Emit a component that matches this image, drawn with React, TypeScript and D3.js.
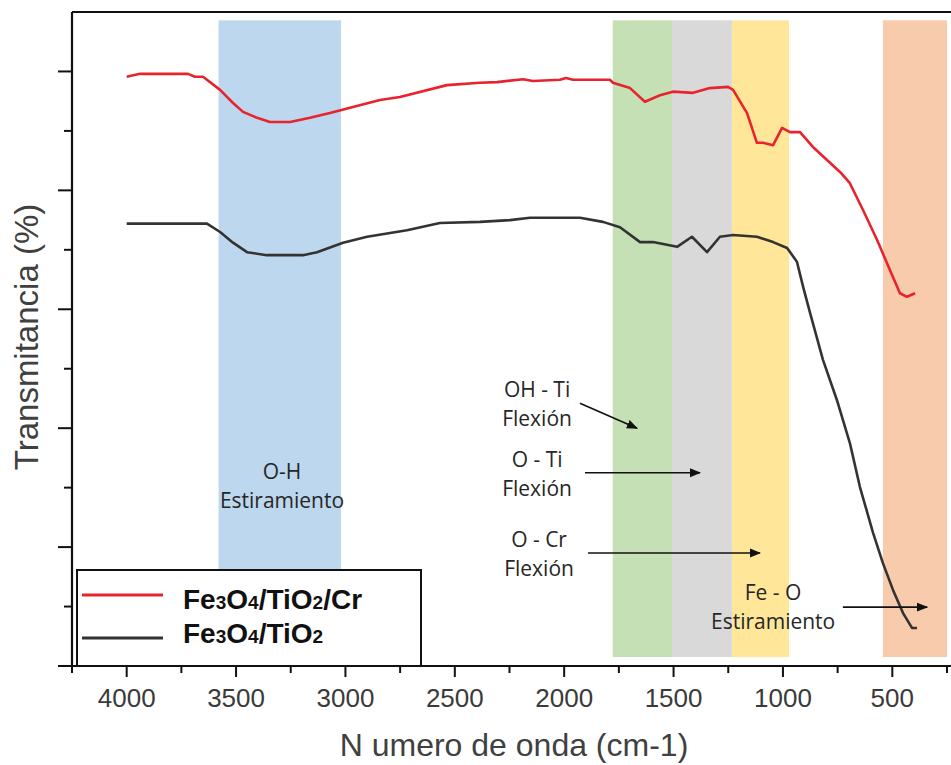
import React from 'react';
import * as d3 from 'd3';

// ---- data ----
const crWave = [4000, 3939, 3720, 3688, 3651, 3573, 3514, 3468, 3404, 3345, 3253, 3162, 3071, 2979, 2842, 2751, 2536, 2385, 2307, 2188, 2143, 2019, 1992, 1960, 1791, 1777, 1699, 1631, 1562, 1503, 1411, 1334, 1251, 1228, 1164, 1119, 1091, 1045, 1004, 968, 922, 863, 739, 694, 634, 570, 511, 465, 433, 396];
const crTrans = [99.1, 99.6, 99.6, 99.1, 99.1, 96.9, 94.7, 93.2, 92.2, 91.5, 91.5, 92.2, 93.0, 93.9, 95.2, 95.7, 97.7, 98.1, 98.2, 98.7, 98.4, 98.6, 98.9, 98.6, 98.6, 98.1, 97.2, 94.9, 96.0, 96.6, 96.4, 97.2, 97.4, 96.9, 93.0, 88.0, 88.0, 87.6, 90.5, 89.8, 89.8, 87.3, 83.1, 81.2, 76.7, 71.7, 66.6, 62.7, 62.1, 62.7];

const baseWave = [4000, 3633, 3573, 3514, 3450, 3359, 3194, 3130, 3011, 2901, 2719, 2568, 2385, 2248, 2156, 1928, 1823, 1745, 1653, 1594, 1484, 1416, 1347, 1288, 1228, 1119, 1045, 981, 936, 908, 876, 817, 753, 694, 648, 588, 543, 497, 451, 410, 387];
const baseTrans = [74.4, 74.4, 73.0, 71.2, 69.6, 69.1, 69.1, 69.6, 71.2, 72.2, 73.3, 74.5, 74.7, 75.0, 75.4, 75.4, 74.7, 73.8, 71.3, 71.3, 70.5, 72.2, 69.6, 72.2, 72.5, 72.2, 71.3, 70.3, 68.0, 63.8, 59.4, 51.5, 44.7, 37.5, 30.1, 22.4, 17.3, 12.8, 8.9, 6.4, 6.4];

const seriesNames = ['Fe3O4/TiO2/Cr', 'Fe3O4/TiO2'];
const seriesColors = ['#e8232d', '#333333'];

const bandFrom = [3580, 1778, 1507, 1233, 543];
const bandTo = [3020, 1507, 1233, 972, 250];
const bandColors = ['#bdd7ee', '#c5e0b4', '#d9d9d9', '#ffe699', '#f8cbad'];

const noteLines = [['O-H', 'Estiramiento'], ['OH - Ti', 'Flexión'], ['O - Ti', 'Flexión'], ['O - Cr', 'Flexión'], ['Fe - O', 'Estiramiento']];
const noteWave = [3290, 2124, 2124, 2115, 1045];
const noteTrans = [31.45, 45.2, 33.5, 20.0, 11.1];

const arrowFromWave = [1928, 1905, 1891, 726];
const arrowFromTrans = [44.2, 32.5, 19.0, 9.9];
const arrowToWave = [1667, 1379, 1105, 341];
const arrowToTrans = [40.0, 32.5, 19.0, 9.9];

const xMajorTicks = [4000, 3500, 3000, 2500, 2000, 1500, 1000, 500];
const xMinorTicks = [4250, 3750, 3250, 2750, 2250, 1750, 1250, 750, 250];
const yMajorTicks = [0, 20, 40, 60, 80, 100];
const yMinorTicks = [10, 30, 50, 70, 90];

const xTitle = 'N umero de onda (cm-1)';
const yTitle = 'Transmitancia (%)';

function chem(label: string, big: number, small: number) {
  const parts = label.split(/(\d)/).filter((s) => s.length > 0);
  return parts.map((p, i) =>
    /\d/.test(p) ? (
      <tspan key={i} fontSize={small}>{p}</tspan>
    ) : (
      <tspan key={i} fontSize={big}>{p}</tspan>
    )
  );
}

export default function App() {
  const W = 951;
  const H = 765;
  const x = d3.scaleLinear().domain([4250, 250]).range([72, 947]);
  const y = d3.scaleLinear().domain([0, 110]).range([666, 12]);

  const crData = crWave.map((w, i) => [w, crTrans[i]] as [number, number]);
  const baseData = baseWave.map((w, i) => [w, baseTrans[i]] as [number, number]);
  const line = d3
    .line<[number, number]>()
    .x((d) => x(d[0]))
    .y((d) => y(d[1]));

  const bandTop = y(108.6);
  const bandBottom = y(1.5);

  const annFont = "'Open Sans', 'Noto Sans', sans-serif";
  const axFont = "'Liberation Sans', Arial, sans-serif";

  return (
    <svg
      width={W}
      height={H}
      style={{ position: 'absolute', left: 0, top: 0, background: '#fff' }}
      xmlns="http://www.w3.org/2000/svg"
    >
      <defs>
        <marker id="ah" viewBox="0 0 10 10" refX="9" refY="5" markerWidth="7" markerHeight="7" orient="auto">
          <path d="M0,1 L10,5 L0,9 z" fill="#111" />
        </marker>
      </defs>
      <rect x={0} y={0} width={W} height={H} fill="#fff" />

      {/* bands */}
      {bandFrom.map((b, i) => (
        <rect
          key={i}
          x={x(b)}
          y={bandTop}
          width={x(bandTo[i]) - x(b)}
          height={bandBottom - bandTop}
          fill={bandColors[i]}
        />
      ))}

      {/* series */}
      <path d={line(crData) || ''} fill="none" stroke={seriesColors[0]} strokeWidth={2.6} strokeLinejoin="round" />
      <path d={line(baseData) || ''} fill="none" stroke={seriesColors[1]} strokeWidth={2.6} strokeLinejoin="round" />

      {/* annotations */}
      {noteLines.map((ls, i) => (
        <text
          key={i}
          x={x(noteWave[i])}
          y={y(noteTrans[i])}
          textAnchor="middle"
          fontFamily={annFont}
          fontSize={21}
          fill="#262626"
        >
          {ls.map((l, j) => (
            <tspan key={j} x={x(noteWave[i])} dy={j === 0 ? 0 : 29}>
              {l}
            </tspan>
          ))}
        </text>
      ))}
      {arrowFromWave.map((w, i) => (
        <line
          key={i}
          x1={x(w)}
          y1={y(arrowFromTrans[i])}
          x2={x(arrowToWave[i])}
          y2={y(arrowToTrans[i])}
          stroke="#111"
          strokeWidth={1.6}
          markerEnd="url(#ah)"
        />
      ))}

      {/* legend */}
      <rect x={77} y={570} width={344} height={96} fill="#fff" stroke="#111" strokeWidth={2} />
      {seriesNames.map((n, i) => (
        <g key={n}>
          <line x1={82} x2={163} y1={595 + i * 43} y2={595 + i * 43} stroke={seriesColors[i]} strokeWidth={3} />
          <text x={183} y={609 + i * 34} fontFamily={axFont} fontWeight="bold" fill="#111">
            {chem(n, 28, 19)}
          </text>
        </g>
      ))}

      {/* axes */}
      <line x1={72} x2={951} y1={12} y2={12} stroke="#111" strokeWidth={2} />
      <line x1={72} x2={72} y1={12} y2={667} stroke="#111" strokeWidth={2.2} />
      <line x1={58} x2={951} y1={666} y2={666} stroke="#111" strokeWidth={2.2} />
      {yMajorTicks.map((t) => (
        <line key={'ym' + t} x1={58} x2={72} y1={y(t)} y2={y(t)} stroke="#111" strokeWidth={2} />
      ))}
      {yMinorTicks.map((t) => (
        <line key={'yn' + t} x1={64} x2={72} y1={y(t)} y2={y(t)} stroke="#111" strokeWidth={2} />
      ))}
      {xMajorTicks.map((t) => (
        <g key={'xm' + t}>
          <line x1={x(t)} x2={x(t)} y1={666} y2={677} stroke="#111" strokeWidth={2} />
          <text x={x(t)} y={707} textAnchor="middle" fontFamily={axFont} fontSize={26} fill="#3a3a3a">
            {t}
          </text>
        </g>
      ))}
      {xMinorTicks.map((t) => (
        <line key={'xn' + t} x1={x(t)} x2={x(t)} y1={666} y2={673} stroke="#111" strokeWidth={2} />
      ))}
      <text x={514} y={756} textAnchor="middle" fontFamily={axFont} fontSize={32} fill="#404040">
        {xTitle}
      </text>
      <text
        transform="translate(38,337) rotate(-90)"
        textAnchor="middle"
        fontFamily={axFont}
        fontSize={33}
        fill="#404040"
      >
        {yTitle}
      </text>
    </svg>
  );
}
